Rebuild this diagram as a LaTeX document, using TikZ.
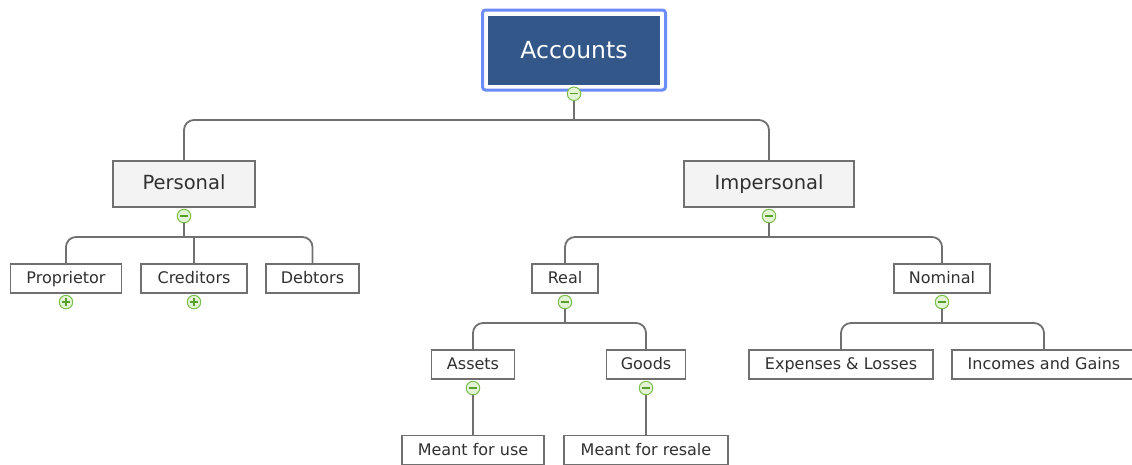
\documentclass[tikz,border=0pt]{standalone}
\usepackage{fontspec}
\setmainfont{DejaVu Sans}
\usetikzlibrary{positioning}

\definecolor{linegray}{HTML}{707070}
\definecolor{textgray}{HTML}{303030}
\definecolor{boxfill}{HTML}{F3F3F3}
\definecolor{rootfill}{HTML}{345789}
\definecolor{rootedge}{HTML}{6C8CF8}
\definecolor{icoedge}{HTML}{7CBE4E}
\definecolor{icofill}{HTML}{E2F4D4}
\definecolor{icomark}{HTML}{5A9E2E}

\begin{document}
\begin{tikzpicture}[x=1pt, y=-1pt,
    box/.style={draw=linegray, line width=1.6pt, fill=white, text=textgray,
        font=\fontsize{16}{19}\selectfont, minimum height=29pt, inner sep=0pt,
        text height=10.8pt, text depth=0pt},
    mainbox/.style={box, fill=boxfill, font=\fontsize{19.5}{23}\selectfont,
        minimum height=46pt, text height=11.6pt},
    rootbox/.style={draw=white, line width=2pt, fill=rootfill, text=white,
        font=\fontsize{23.5}{28}\selectfont, minimum width=174pt,
        minimum height=71pt, inner sep=0pt},
    conn/.style={draw=linegray, line width=1.8pt, rounded corners=10pt},
    tog/.style={circle, draw=icoedge, fill=icofill, line width=1pt,
        minimum size=13.5pt, inner sep=0pt},
    togminus/.style={tog, path picture={
        \draw[icomark, line width=1.2pt]
            ([xshift=3pt]path picture bounding box.west)
            -- ([xshift=-3pt]path picture bounding box.east);}},
    togplus/.style={tog, path picture={
        \draw[icomark, line width=1.2pt]
            ([xshift=3pt]path picture bounding box.west)
            -- ([xshift=-3pt]path picture bounding box.east)
            ([yshift=-3pt]path picture bounding box.north)
            -- ([yshift=3pt]path picture bounding box.south);}},
  ]
    \useasboundingbox (0,0) rectangle (1132,464);
    \clip (0,0) rectangle (1132,464);

    % root
    \node[rootbox] (acc) at (574,50) {Accounts};
    \draw[rootedge, line width=3pt, rounded corners=3pt]
        ([shift={(-3.5,-3.5)}]acc.north west) rectangle
        ([shift={(3.5,3.5)}]acc.south east);
    \node[togminus, below=0pt of acc] (accT) {};

    % first level
    \node[mainbox, minimum width=142pt] (pers) at (184,184) {Personal};
    \node[mainbox, minimum width=170pt] (imp) at (769,184) {Impersonal};
    \node[togminus, below=1pt of pers] (persT) {};
    \node[togminus, below=1pt of imp] (impT) {};
    \coordinate (accBus) at (574,120);
    \draw[conn] (pers.north) |- (accBus) -| (imp.north);
    \draw[conn] (accT) -- (accBus);

    % personal accounts
    \node[box, minimum width=111pt] (prop) at (66,278.5) {Proprietor};
    \node[box, minimum width=106pt] (cred) at (194,278.5) {Creditors};
    \node[box, minimum width=93pt] (debt) at (312.5,278.5) {Debtors};
    \node[togplus, below=1pt of prop] (propT) {};
    \node[togplus, below=1pt of cred] (credT) {};
    \coordinate (persBus) at (184,237);
    \draw[conn] (prop.north) |- (persBus) -| (debt.north);
    \draw[conn] (persT) -- (persBus);
    \draw[conn] (cred.north) -- (cred.north |- persBus);

    % impersonal accounts
    \node[box, minimum width=66pt] (real) at (565,278.5) {Real};
    \node[box, minimum width=96pt] (nom) at (942,278.5) {Nominal};
    \node[togminus, below=1pt of real] (realT) {};
    \node[togminus, below=1pt of nom] (nomT) {};
    \coordinate (impBus) at (769,237);
    \draw[conn] (real.north) |- (impBus) -| (nom.north);
    \draw[conn] (impT) -- (impBus);

    % real accounts
    \node[box, minimum width=83pt] (ass) at (473,364.5) {Assets};
    \node[box, minimum width=79pt] (goods) at (646,364.5) {Goods};
    \node[togminus, below=1pt of ass] (assT) {};
    \node[togminus, below=1pt of goods] (goodsT) {};
    \coordinate (realBus) at (565,323);
    \draw[conn] (ass.north) |- (realBus) -| (goods.north);
    \draw[conn] (realT) -- (realBus);

    \node[box, minimum width=142pt] (use) at (473,450) {Meant for use};
    \node[box, minimum width=164pt] (resale) at (646,450) {Meant for resale};
    \draw[conn] (assT) -- (use);
    \draw[conn] (goodsT) -- (resale);

    % nominal accounts
    \node[box, minimum width=184pt] (exp) at (841,364.5) {Expenses \& Losses};
    \node[box, minimum width=184pt] (inc) at (1044,364.5) {Incomes and Gains};
    \coordinate (nomBus) at (942,323);
    \draw[conn] (exp.north) |- (nomBus) -| (inc.north);
    \draw[conn] (nomT) -- (nomBus);
\end{tikzpicture}
\end{document}
